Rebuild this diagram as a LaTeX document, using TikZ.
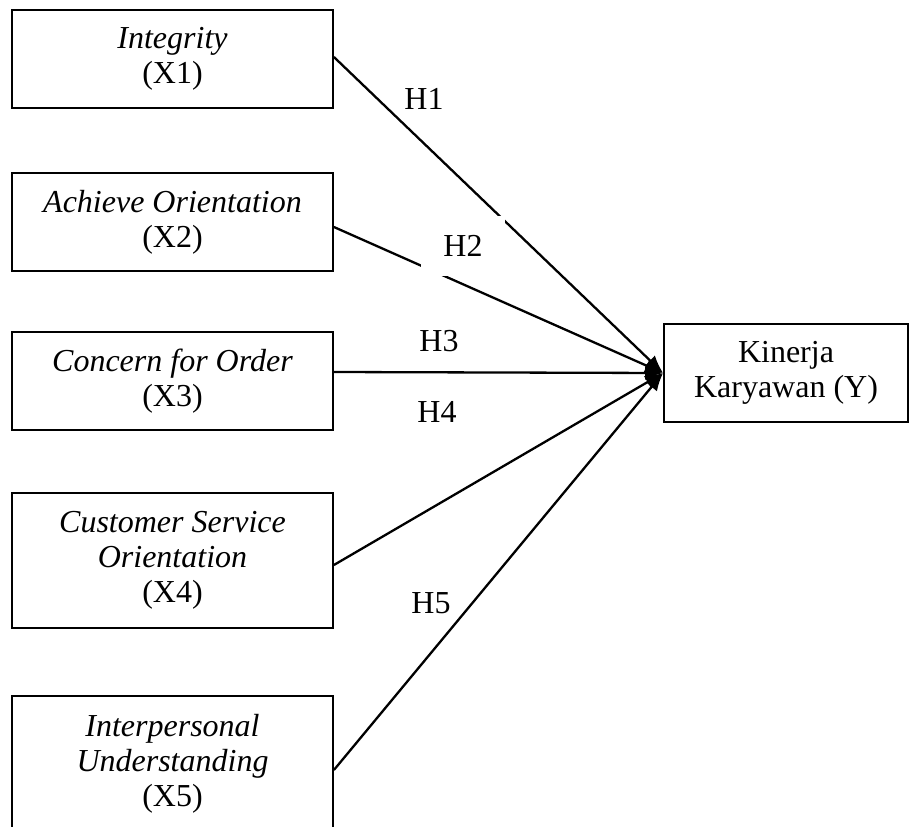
\documentclass[tikz,border=0pt]{standalone}
\usepackage{fontspec}
\setmainfont{Liberation Serif}
\usetikzlibrary{arrows.meta}
\begin{document}
\begin{tikzpicture}[x=1pt,y=-1pt,
  box/.style={draw,line width=1.8pt,minimum width=321pt,align=center,inner sep=0pt,font=\fontsize{32}{35}\selectfont},
  lab/.style={font=\fontsize{32}{35}\selectfont,inner sep=0pt},
  link/.style={line width=2.3pt,-{Latex[length=18pt,width=14pt]}}]
\useasboundingbox (0,0) rectangle (910,827);
\node[box,minimum height=98pt] (b1) at (172.5,59) {\textit{Integrity}\\(X1)};
\node[box,minimum height=98pt] (b2) at (172.5,222) {\textit{Achieve Orientation}\\(X2)};
\node[box,minimum height=98pt] (b3) at (172.5,381) {\textit{Concern for Order}\\(X3)};
\node[box,minimum height=135pt] (b4) at (172.5,560.5) {\textit{Customer Service}\\\textit{Orientation}\\(X4)};
\node[box,minimum height=135pt] (b5) at (172.5,763.5) {\textit{Interpersonal}\\\textit{Understanding}\\(X5)};
\node[box,minimum width=244pt,minimum height=98pt] (y) at (786,373) {Kinerja\\Karyawan (Y)};
\draw[link] ([yshift=2pt]b1.east) -- (y.west);
\draw[link] ([yshift=-5pt]b2.east) -- (y.west);
\draw[link] ([yshift=9pt]b3.east) -- (y.west);
\draw[link] ([yshift=-4.5pt]b4.east) -- (y.west);
\draw[link] ([yshift=-6.5pt]b5.east) -- (y.west);
\node[lab] (h1) at (424,99) {H1};
\node[lab,fill=white,minimum width=84pt,minimum height=60pt] (h2) at (463,246) {H2};
\node[lab] (h3) at (439,341) {H3};
\node[lab] (h4) at (437,412) {H4};
\node[lab] (h5) at (431,603) {H5};
\end{tikzpicture}
\end{document}
